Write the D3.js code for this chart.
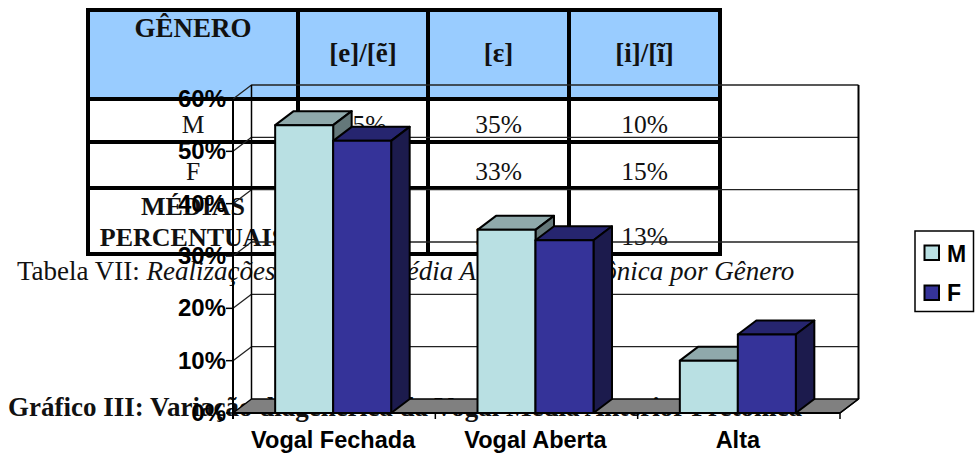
<!DOCTYPE html>
<html><head><meta charset="utf-8">
<style>html,body{margin:0;padding:0;background:#fff}svg{display:block}</style>
<script src="https://cdn.jsdelivr.net/npm/d3@7/dist/d3.min.js"></script>
</head><body><svg id="c" width="976" height="455"></svg>
<script>
const categories = ["Vogal Fechada", "Vogal Aberta", "Alta"];
const seriesNames = ["M", "F"];
const valuesM = [55, 35, 10];
const valuesF = [52, 33, 15];
const yTicks = [0, 10, 20, 30, 40, 50, 60];
const tableHead = ["GÊNERO", "[e]/[ẽ]", "[ɛ]", "[i]/[ĩ]"];
const tableRowM = ["M", "55%", "35%", "10%"];
const tableRowF = ["F", "52%", "33%", "15%"];
const tableRowAvg = ["MÉDIAS\nPERCENTUAIS", "54%", "34%", "13%"];
const captionA = ["Tabela VII: ", "Realizações da Vogal Média Anterior Pretônica por Gênero"];
const captionB = "Gráfico III: Variação diagenérica da Vogal Média Anterior Pretônica";

const svg = d3.select("#c");
const SERIF = "'Liberation Serif',serif", SANS = "'Liberation Sans',sans-serif";

// ---- table underneath the chart
const colX = [88, 298, 428, 569, 720];
const rowY = [10, 99, 142, 188, 254];
const t = svg.append("g");
t.append("rect").attr("x", colX[0]).attr("y", rowY[0]).attr("width", colX[4]-colX[0]).attr("height", rowY[1]-rowY[0]).attr("fill", "#99ccff");
rowY.forEach(y => t.append("line").attr("x1", colX[0]-2).attr("x2", colX[4]+2).attr("y1", y).attr("y2", y).attr("stroke", "#000").attr("stroke-width", 4));
colX.forEach(x => t.append("line").attr("x1", x).attr("x2", x).attr("y1", rowY[0]).attr("y2", rowY[4]).attr("stroke", "#000").attr("stroke-width", 4));
const cellCx = i => (colX[i] + colX[i+1]) / 2;
tableHead.forEach((s, i) => t.append("text").attr("x", cellCx(i)).attr("y", i === 0 ? 37 : 62)
  .attr("text-anchor", "middle").attr("font-family", SERIF).attr("font-weight", "bold")
  .attr("font-size", 27).attr("fill", "#111").text(s));
[[tableRowM, 133], [tableRowF, 180]].forEach(([row, y]) => row.forEach((s, i) =>
  t.append("text").attr("x", cellCx(i)).attr("y", y).attr("text-anchor", "middle")
   .attr("font-family", SERIF).attr("font-size", 25.5).attr("fill", "#111").text(s)));
tableRowAvg[0].split("\n").forEach((s, k) => t.append("text").attr("x", cellCx(0)).attr("y", 215 + k*31)
  .attr("text-anchor", "middle").attr("font-family", SERIF).attr("font-weight", "bold").attr("font-size", 26).attr("fill", "#111").text(s));
tableRowAvg.slice(1).forEach((s, i) => t.append("text").attr("x", cellCx(i+1)).attr("y", 245)
  .attr("text-anchor", "middle").attr("font-family", SERIF).attr("font-size", 25.5).attr("fill", "#111").text(s));

// ---- captions
const cap = svg.append("text").attr("x", 17).attr("y", 280).attr("font-family", SERIF).attr("font-size", 27).attr("fill", "#111");
cap.append("tspan").text(captionA[0]);
cap.append("tspan").attr("font-style", "italic").text(captionA[1]);
svg.append("text").attr("x", 8).attr("y", 416).attr("font-family", SERIF).attr("font-weight", "bold").attr("font-size", 27).attr("fill", "#111").text(captionB);

// ---- 3D column chart
const dx = 18.5, dy = -14, barDy = -14;
const x0 = d3.scaleBand().domain(categories).range([233, 840]);
const x1 = d3.scaleBand().domain(seriesNames).range([0, 116]);
const y = d3.scaleLinear().domain([0, 60]).range([413, 99]);
const colors = {M: ["#b9e0e3", "#8fa9ab", "#64787a"], F: ["#353399", "#26256f", "#1c1b4d"]};
const g = svg.append("g").attr("stroke", "#000").attr("stroke-linejoin", "round");
const poly = pts => pts.map(p => p.join(",")).join(" ");
const xL = x0.range()[0], xR = x0.range()[1];

g.append("polygon").attr("points", poly([[xL, y(0)], [xR, y(0)], [xR+dx, y(0)+dy], [xL+dx, y(0)+dy]]))
  .attr("fill", "#808080").attr("stroke-width", 1.5);
yTicks.forEach(v => {
  if (v > 0) g.append("polyline").attr("fill", "none").attr("stroke-width", 1.3).attr("stroke", "#222")
    .attr("points", poly([[xL, y(v)], [xL+dx, y(v)+dy], [xR+dx, y(v)+dy]]));
  g.append("line").attr("x1", xL-7).attr("x2", xL).attr("y1", y(v)).attr("y2", y(v)).attr("stroke-width", 1.5);
  svg.append("text").attr("x", 226).attr("y", y(v)+8).attr("text-anchor", "end")
    .attr("font-family", SANS).attr("font-weight", "bold").attr("font-size", 24).attr("fill", "#000").text(v + "%");
});
g.append("line").attr("x1", xL).attr("x2", xL).attr("y1", y(60)).attr("y2", y(0)+6).attr("stroke-width", 2);
g.append("line").attr("x1", xL+dx).attr("x2", xL+dx).attr("y1", y(60)+dy).attr("y2", y(0)+dy).attr("stroke-width", 1.5);
g.append("line").attr("x1", xR+dx).attr("x2", xR+dx).attr("y1", y(60)+dy).attr("y2", y(0)+dy).attr("stroke-width", 2);
g.append("line").attr("x1", xR).attr("x2", xR+dx).attr("y1", y(0)).attr("y2", y(0)+dy).attr("stroke-width", 1.5);
g.append("line").attr("x1", xL).attr("x2", xR).attr("y1", y(0)).attr("y2", y(0)).attr("stroke-width", 2);
[...categories.map(c => x0(c)), xR].forEach(x => g.append("line").attr("x1", x).attr("x2", x).attr("y1", y(0)).attr("y2", y(0)+6).attr("stroke-width", 1.5));

categories.forEach((c, i) => {
  const base = x0(c) + (x0.bandwidth() - 116) / 2 - 1;
  [["M", valuesM[i]], ["F", valuesF[i]]].forEach(([s, v]) => {
    const l = base + x1(s), r = l + x1.bandwidth(), top = y(v), bot = y(0), col = colors[s];
    g.append("polygon").attr("points", poly([[l, top], [l+dx, top+barDy], [r+dx, top+barDy], [r, top]])).attr("fill", col[1]).attr("stroke-width", 2);
    g.append("polygon").attr("points", poly([[r, top], [r+dx, top+barDy], [r+dx, bot+barDy], [r, bot]])).attr("fill", col[2]).attr("stroke-width", 2);
    g.append("rect").attr("x", l).attr("y", top).attr("width", r-l).attr("height", bot-top).attr("fill", col[0]).attr("stroke-width", 2);
  });
  svg.append("text").attr("x", x0(c) + x0.bandwidth()/2 - 1).attr("y", 448).attr("text-anchor", "middle")
    .attr("font-family", SANS).attr("font-weight", "bold").attr("font-size", 23.5).attr("fill", "#000").text(c);
});

// ---- legend
const lg = svg.append("g");
lg.append("rect").attr("x", 915).attr("y", 231).attr("width", 58.5).attr("height", 80.5).attr("fill", "#fff").attr("stroke", "#000").attr("stroke-width", 1.5);
seriesNames.forEach((s, i) => {
  lg.append("rect").attr("x", 924.5).attr("y", 245.5 + i*40).attr("width", 14.5).attr("height", 14.5).attr("fill", colors[s][0]).attr("stroke", "#000").attr("stroke-width", 2);
  lg.append("text").attr("x", 947).attr("y", 261.5 + i*39.5).attr("font-family", SANS).attr("font-weight", "bold").attr("font-size", 23).attr("fill", "#000").text(s);
});
</script></body></html>
